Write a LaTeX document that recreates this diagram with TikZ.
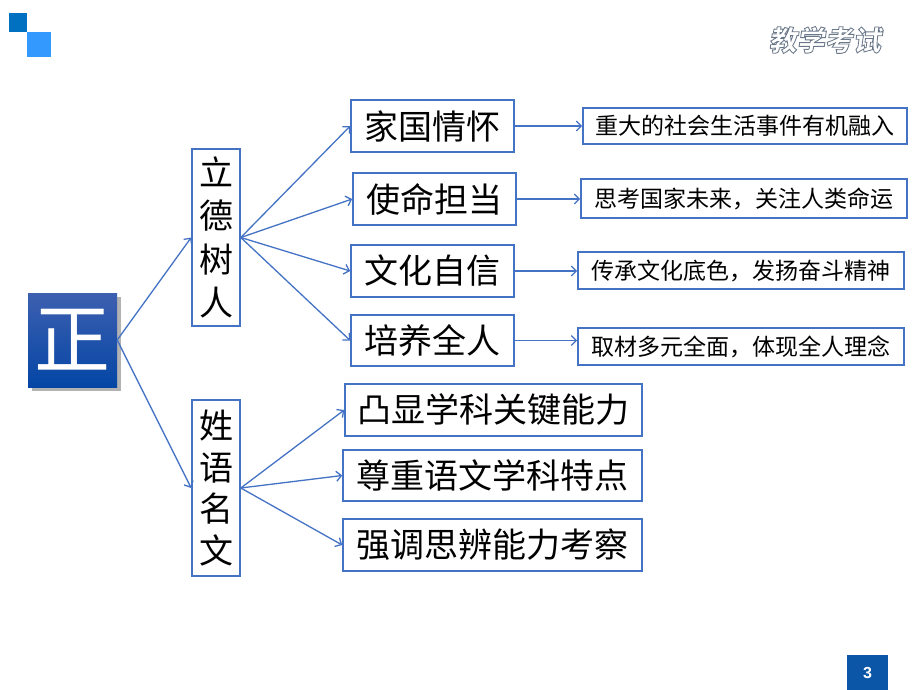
\documentclass[tikz,border=0pt]{standalone}
\usepackage{fontspec}
\setmainfont{Liberation Sans}
\newfontfamily\cjk{Noto Sans CJK SC}
\newfontfamily\cjklogo[FakeSlant=0.15,FakeBold=3]{Noto Sans CJK SC}
\usetikzlibrary{arrows.meta,calc}
\definecolor{lineblue}{HTML}{4472C4}
\definecolor{sqdark}{HTML}{0070C0}
\definecolor{sqlight}{HTML}{3399FF}
\definecolor{pgblue}{HTML}{0B56A6}
\definecolor{zhtop}{HTML}{3D5FB0}
\definecolor{zhbot}{HTML}{0446A5}
\begin{document}
\begin{tikzpicture}[x=1pt,y=-1pt,
  box/.style={draw=lineblue,line width=1.6pt,fill=white,inner sep=0pt,text=black},
  lvtwo/.style={box,font=\cjk\fontsize{34}{40}\selectfont},
  lvthree/.style={box,font=\cjk\fontsize{23}{28}\selectfont},
  vertbox/.style={box,align=center,minimum width=48pt},
  conn/.style={draw=lineblue,line width=1.3pt,-{Straight Barb[length=5pt,width=10pt]}},
  logotext/.style={font=\cjklogo\bfseries\fontsize{28}{30}\selectfont,inner sep=0pt}]
\useasboundingbox (0,0) rectangle (920,690);
\fill[white] (0,0) rectangle (920,690);

% corner squares
\fill[sqdark] (9,13) rectangle (27,32);
\fill[sqlight] (27,32) rectangle (51,57);

% logo text (white fill, grey outline via stroke colour)
\node[logotext,text=white] (logo) at (825,40)
  {\special{pdf:literal 0.42 0.47 0.54 RG}教学考试};

% page number
\fill[pgblue] (847,655) rectangle (888,690);
\node[text=white,font=\bfseries\fontsize{16}{18}\selectfont] (pg) at (867.5,672.5) {3};

% main box
\fill[black,opacity=0.3] (32,297) rectangle (121,391);
\node[inner sep=0pt,minimum width=89pt,minimum height=94pt,top color=zhtop,bottom color=zhbot,
  text=white,font=\cjk\fontsize{76}{80}\selectfont] (zheng) at (72.5,340) {正};

% level 1
\node[vertbox,minimum height=177pt,font=\cjk\fontsize{34}{43.5}\selectfont] (ld) at (216,237.5) {立\\德\\树\\人};
\node[vertbox,minimum height=176pt,font=\cjk\fontsize{34}{41.5}\selectfont] (xy) at (216,488) {姓\\语\\名\\文};

% level 2
\node[lvtwo,minimum width=163pt,minimum height=52pt] (jg) at (432.5,126) {家国情怀};
\node[lvtwo,minimum width=163pt,minimum height=52pt] (sm) at (434.5,199) {使命担当};
\node[lvtwo,minimum width=163pt,minimum height=52pt] (wh) at (432.5,271) {文化自信};
\node[lvtwo,minimum width=163pt,minimum height=51pt] (py) at (432.5,340.5) {培养全人};
\node[lvtwo,minimum width=297pt,minimum height=52pt] (tx) at (493.5,410) {凸显学科关键能力};
\node[lvtwo,minimum width=299pt,minimum height=51pt] (zz) at (492.5,475.5) {尊重语文学科特点};
\node[lvtwo,minimum width=299pt,minimum height=52pt] (qd) at (492.5,545) {强调思辨能力考察};

% level 3
\node[lvthree,minimum width=324pt,minimum height=36pt] (ra) at (745,126) {重大的社会生活事件有机融入};
\node[lvthree,minimum width=326pt,minimum height=39pt] (rb) at (744,198.5) {思考国家未来，关注人类命运};
\node[lvthree,minimum width=326pt,minimum height=37pt] (rc) at (741,270.5) {传承文化底色，发扬奋斗精神};
\node[lvthree,minimum width=326pt,minimum height=37pt] (rd) at (741,346.5) {取材多元全面，体现全人理念};

% connectors
\draw[conn] (zheng.east) -- (ld.west);
\draw[conn] (zheng.east) -- (xy.west);
\foreach \t in {jg,sm,wh,py} \draw[conn] (ld.east) -- (\t.west);
\foreach \t in {tx,zz,qd} \draw[conn] (xy.east) -- (\t.west);
\draw[conn] (jg.east) -- (jg.east -| ra.west);
\draw[conn] (sm.east) -- (sm.east -| rb.west);
\draw[conn] (wh.east) -- (wh.east -| rc.west);
\draw[conn] (py.east) -- (py.east -| rd.west);
\end{tikzpicture}
\end{document}
